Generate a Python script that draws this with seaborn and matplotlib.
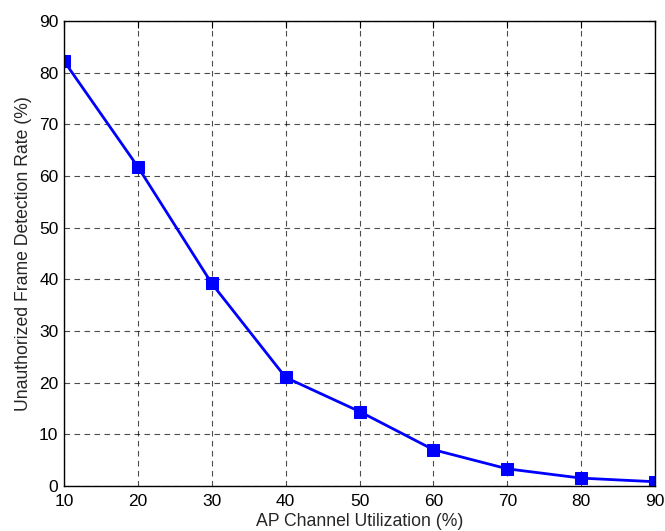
import numpy as np
import pandas as pd
import matplotlib
matplotlib.use("Agg")
import matplotlib.pyplot as plt
import seaborn as sns

# values
utilization = [10, 20, 30, 40, 50, 60, 70, 80, 90]
detection_rate = [82.3, 61.8, 39.2, 21.0, 14.4, 7.0, 3.3, 1.5, 0.8]

sns.set_style("white")
plt.rcParams['font.family'] = ['Liberation Sans', 'DejaVu Sans']

df = pd.DataFrame({'util': utilization, 'rate': detection_rate})

fig = plt.figure(figsize=(6.65, 5.31), dpi=100)
ax = fig.add_axes([0.0962, 0.085, 0.889, 0.875])

sns.lineplot(data=df, x='util', y='rate', ax=ax, color='blue', marker='s',
             markersize=8.5, markeredgecolor='blue', linewidth=2)

ax.set_xlim(10, 90)
ax.set_ylim(0, 90)
ax.set_xticks(np.arange(10, 91, 10))
ax.set_yticks(np.arange(0, 91, 10))
ax.grid(True, linestyle=(0, (5, 4)), color='black', linewidth=0.8, alpha=0.7)
ax.tick_params(direction='in', length=5, labelsize=12.5, colors='black',
               top=True, right=True)
ax.tick_params(axis='x', pad=6)
ax.tick_params(axis='y', pad=4)
for s in ax.spines.values():
    s.set_visible(True)
    s.set_color('black')
    s.set_linewidth(1)

ax.set_xlabel('AP Channel Utilization (%)', fontsize=12.7, labelpad=3)
ax.set_ylabel('Unauthorized Frame Detection Rate (%)', fontsize=12.7, labelpad=5)

fig.savefig('out.png', dpi=100)
